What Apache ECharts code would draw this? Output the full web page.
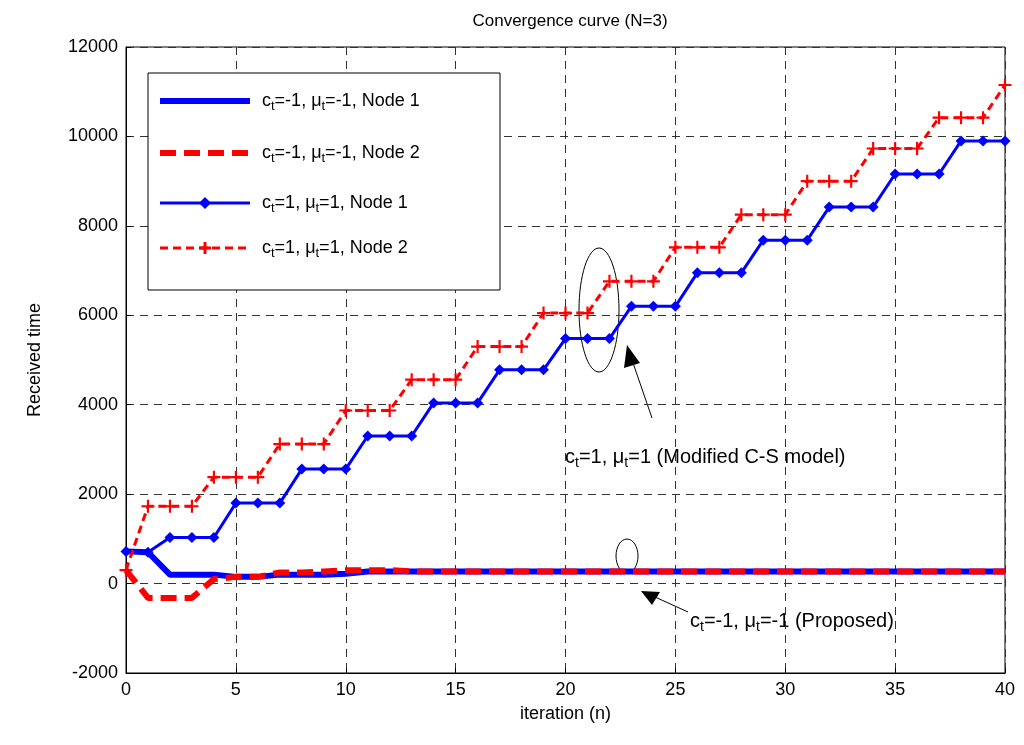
<!DOCTYPE html>
<html><head><meta charset="utf-8">
<script src="https://cdn.jsdelivr.net/npm/echarts@6/dist/echarts.min.js"></script>
<style>html,body{margin:0;background:#fff}#c{width:1024px;height:745px}</style>
</head><body><div id="c"></div>
<script>
const iterations = Array.from({length:41},(_,i)=>i);
const propNode1 = [720,700,200,200,200,150,150,200,200,200,220,270,270,270,270,270,270,270,270,270,270,270,270,270,270,270,270,270,270,270,270,270,270,270,270,270,270,270,270,270,270];
const propNode2 = [300,-320,-320,-320,100,150,150,250,250,270,300,300,300,270,270,270,270,270,270,270,270,270,270,270,270,270,270,270,270,270,270,270,270,270,270,270,270,270,270,270,270];
const csNode1 = [720,700,1030,1030,1030,1800,1800,1800,2560,2560,2560,3300,3300,3300,4040,4040,4040,4780,4780,4780,5480,5480,5480,6200,6200,6200,6950,6950,6950,7680,7680,7680,8420,8420,8420,9160,9160,9160,9900,9900,9900];
const csNode2 = [300,1730,1730,1730,2380,2380,2380,3120,3120,3120,3870,3870,3870,4560,4560,4560,5300,5300,5300,6050,6050,6050,6760,6760,6760,7520,7520,7520,8250,8250,8250,9000,9000,9000,9730,9730,9730,10420,10420,10420,11150];
const names = ['{a|c}{s|t}{a|=-1, μ}{s|t}{a|=-1, Node 1}','{a|c}{s|t}{a|=-1, μ}{s|t}{a|=-1, Node 2}','{a|c}{s|t}{a|=1, μ}{s|t}{a|=1, Node 1}','{a|c}{s|t}{a|=1, μ}{s|t}{a|=1, Node 2}'];
const plus = 'path://M-1,-6H1V-1H6V1H1V6H-1V1H-6V-1H-1Z';
const ch = echarts.init(document.getElementById('c'));
const F = 'Arial, Liberation Sans, sans-serif';
const richL = {a:{fontSize:18,fontFamily:F,color:'#000'},s:{fontSize:13,fontFamily:F,color:'#000',padding:[11,0,0,0]}};
const richA = {a:{fontSize:20,fontFamily:F,color:'#000'},s:{fontSize:14,fontFamily:F,color:'#000',padding:[12,0,0,0]}};
const rowY = [101,153,203,248];
const lg = [{type:'rect',shape:{x:148,y:73,width:352,height:217},style:{fill:'#fff',stroke:'#000',lineWidth:1},z:100}];
lg.push({type:'line',shape:{x1:160,y1:rowY[0],x2:250,y2:rowY[0]},style:{stroke:'#0000ff',lineWidth:6},z:101});
lg.push({type:'line',shape:{x1:160,y1:rowY[1],x2:250,y2:rowY[1]},style:{stroke:'#ff0000',lineWidth:6,lineDash:[16,8]},z:101});
lg.push({type:'line',shape:{x1:160,y1:rowY[2],x2:250,y2:rowY[2]},style:{stroke:'#0000ff',lineWidth:3},z:101});
lg.push({type:'polygon',shape:{points:[[205,rowY[2]-6],[211,rowY[2]],[205,rowY[2]+6],[199,rowY[2]]]},style:{fill:'#0000ff'},z:102});
lg.push({type:'line',shape:{x1:160,y1:rowY[3],x2:250,y2:rowY[3]},style:{stroke:'#ff0000',lineWidth:3,lineDash:[8,5]},z:101});
lg.push({type:'rect',shape:{x:199,y:rowY[3]-1.5,width:12,height:3},style:{fill:'#ff0000'},z:102});
lg.push({type:'rect',shape:{x:203.5,y:rowY[3]-6,width:3,height:12},style:{fill:'#ff0000'},z:102});
names.forEach((n,i)=>lg.push({type:'text',x:262,y:rowY[i]-12,style:{text:n,rich:richL},z:102}));
ch.setOption({
  animation:false,
  title:{text:'Convergence curve (N=3)',left:565,top:8,textAlign:'center',textStyle:{fontSize:17,fontWeight:'normal',fontFamily:F,color:'#000'}},
  grid:{left:126,right:19,top:47,bottom:72,show:true,borderColor:'#000',borderWidth:1},
  xAxis:{type:'value',min:0,max:40,interval:5,
    name:'iteration (n)',nameLocation:'middle',nameGap:32,nameTextStyle:{fontSize:18,fontFamily:F,color:'#000'},
    axisLine:{onZero:false,lineStyle:{color:'#000'}},axisTick:{inside:true,lineStyle:{color:'#000'}},
    axisLabel:{fontSize:18,fontFamily:F,color:'#000'},
    splitLine:{lineStyle:{type:[8,6],color:'#333'}}},
  yAxis:{type:'value',min:-2000,max:12000,interval:2000,
    name:'Received time',nameLocation:'middle',nameGap:82,nameTextStyle:{fontSize:18,fontFamily:F,color:'#000'},
    axisLine:{show:true,lineStyle:{color:'#000'}},axisTick:{inside:true,lineStyle:{color:'#000'}},
    axisLabel:{fontSize:18,fontFamily:F,color:'#000',formatter:v=>String(v)},
    splitLine:{lineStyle:{type:[8,6],color:'#333'}}},
  series:[
    {type:'line',data:iterations.map((x,i)=>[x,propNode1[i]]),symbol:'none',lineStyle:{color:'#0000ff',width:6},z:2},
    {type:'line',data:iterations.map((x,i)=>[x,propNode2[i]]),symbol:'none',lineStyle:{color:'#ff0000',width:6,type:[16,8]},z:3},
    {type:'line',data:iterations.map((x,i)=>[x,csNode1[i]]),symbol:'diamond',symbolSize:11,lineStyle:{color:'#0000ff',width:3},itemStyle:{color:'#0000ff'}},
    {type:'line',data:iterations.map((x,i)=>[x,csNode2[i]]),symbol:plus,symbolSize:13,lineStyle:{color:'#ff0000',width:3,type:[8,5]},itemStyle:{color:'#ff0000'}}
  ],
  graphic:lg.concat([
    {type:'ellipse',shape:{cx:599,cy:310,rx:20,ry:62},style:{fill:null,stroke:'#000',lineWidth:1}},
    {type:'ellipse',shape:{cx:627,cy:556,rx:11,ry:17},style:{fill:null,stroke:'#000',lineWidth:1}},
    {type:'line',shape:{x1:652,y1:418,x2:632,y2:360},style:{stroke:'#000',lineWidth:1}},
    {type:'polygon',shape:{points:[[627,345],[624,368],[640,363]]},style:{fill:'#000'}},
    {type:'line',shape:{x1:688,y1:612,x2:655,y2:597},style:{stroke:'#000',lineWidth:1}},
    {type:'polygon',shape:{points:[[641,591],[652,605],[660,592]]},style:{fill:'#000'}},
    {type:'text',x:565,y:444,style:{text:'{a|c}{s|t}{a|=1, μ}{s|t}{a|=1 (Modified C-S model)}',rich:richA}},
    {type:'text',x:690,y:608,style:{text:'{a|c}{s|t}{a|=-1, μ}{s|t}{a|=-1 (Proposed)}',rich:richA}}
  ])
});
</script></body></html>
